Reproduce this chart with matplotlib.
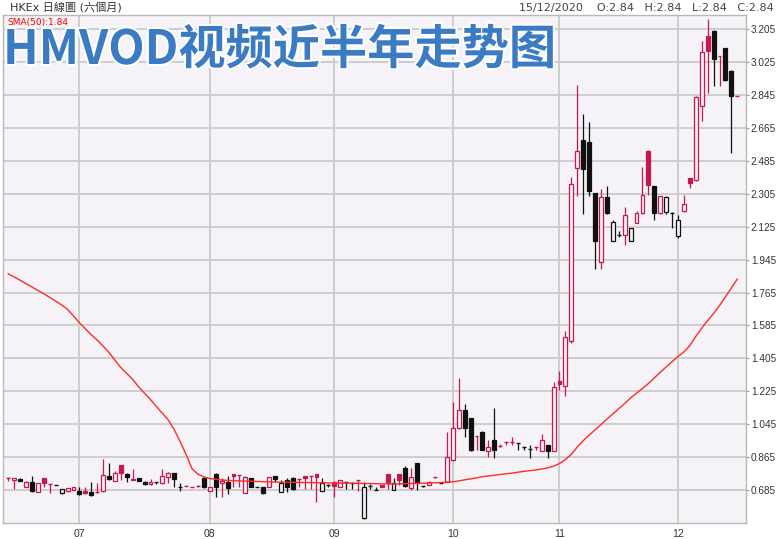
import matplotlib.pyplot as plt
import matplotlib.patheffects as pe
import numpy as np

# 日线数据 (约六个月, 读自图)
opens = [0.749, 0.740, 0.747, 0.703, 0.730, 0.676, 0.749, 0.718, 0.712, 0.670,
         0.678, 0.685, 0.681, 0.681, 0.676, 0.672, 0.681, 0.761, 0.736, 0.822,
         0.772, 0.740, 0.749, 0.730, 0.716, 0.728, 0.722, 0.754, 0.776, 0.703,
         0.708, 0.703, 0.705, 0.752, 0.681, 0.772, 0.725, 0.730, 0.772, 0.767,
         0.670, 0.749, 0.700, 0.700, 0.703, 0.761, 0.676, 0.740, 0.752, 0.743,
         0.761, 0.761, 0.772, 0.681, 0.712, 0.730, 0.703, 0.730, 0.725, 0.740,
         0.530, 0.705, 0.687, 0.712, 0.772, 0.685, 0.772, 0.804, 0.694, 0.831,
         0.705, 0.712, 0.754, 0.725, 0.730, 0.849, 1.022, 1.122, 1.077, 0.980,
         1.004, 0.900, 0.958, 0.926, 0.949, 0.949, 0.944, 0.919, 0.907, 0.918,
         0.900, 0.931, 0.900, 1.283, 1.254, 1.501, 2.444, 2.598, 2.589, 2.307,
         1.933, 2.289, 2.048, 2.079, 2.079, 2.048, 2.146, 2.197, 2.540, 2.347,
         2.197, 2.207, 2.202, 2.075, 2.212, 2.391, 2.379, 2.784, 3.165, 3.196,
         3.058, 3.100, 2.978, 2.840]
highs = [0.758, 0.751, 0.750, 0.732, 0.761, 0.725, 0.751, 0.718, 0.712, 0.690,
         0.696, 0.702, 0.703, 0.700, 0.730, 0.722, 0.853, 0.834, 0.790, 0.824,
         0.780, 0.798, 0.751, 0.732, 0.743, 0.730, 0.798, 0.782, 0.780, 0.722,
         0.712, 0.703, 0.712, 0.758, 0.703, 0.778, 0.749, 0.761, 0.774, 0.767,
         0.761, 0.752, 0.700, 0.702, 0.758, 0.763, 0.740, 0.749, 0.754, 0.745,
         0.762, 0.761, 0.774, 0.749, 0.720, 0.732, 0.742, 0.730, 0.728, 0.740,
         0.730, 0.716, 0.700, 0.714, 0.774, 0.749, 0.774, 0.815, 0.804, 0.834,
         0.707, 0.732, 0.756, 0.725, 1.004, 1.168, 1.296, 1.155, 1.079, 0.982,
         1.006, 0.958, 1.132, 0.935, 0.949, 0.973, 0.944, 0.920, 0.930, 0.918,
         0.991, 0.933, 1.277, 1.337, 1.556, 2.398, 2.899, 2.740, 2.698, 2.310,
         2.329, 2.347, 2.160, 2.100, 2.234, 2.120, 2.210, 2.450, 2.542, 2.349,
         2.295, 2.291, 2.204, 2.188, 2.298, 2.393, 2.840, 3.141, 3.258, 3.200,
         3.060, 3.102, 2.980, 2.840]
lows = [0.736, 0.690, 0.733, 0.700, 0.676, 0.674, 0.700, 0.670, 0.712, 0.661,
        0.676, 0.683, 0.658, 0.663, 0.652, 0.670, 0.676, 0.740, 0.734, 0.740,
        0.730, 0.738, 0.734, 0.714, 0.714, 0.716, 0.720, 0.722, 0.700, 0.681,
        0.708, 0.703, 0.703, 0.698, 0.679, 0.648, 0.648, 0.663, 0.700, 0.700,
        0.668, 0.700, 0.700, 0.664, 0.700, 0.730, 0.674, 0.676, 0.687, 0.700,
        0.689, 0.689, 0.621, 0.679, 0.703, 0.648, 0.701, 0.689, 0.689, 0.681,
        0.528, 0.690, 0.685, 0.700, 0.689, 0.683, 0.712, 0.700, 0.685, 0.683,
        0.700, 0.710, 0.752, 0.725, 0.728, 0.845, 1.020, 0.976, 0.900, 0.904,
        0.902, 0.864, 0.860, 0.918, 0.930, 0.930, 0.904, 0.904, 0.860, 0.904,
        0.898, 0.860, 0.898, 1.234, 1.199, 1.490, 2.293, 2.194, 2.293, 1.893,
        1.893, 2.195, 2.045, 2.070, 2.027, 2.045, 2.144, 2.195, 2.298, 2.160,
        2.195, 2.195, 2.117, 2.061, 2.205, 2.336, 2.375, 2.700, 2.857, 2.894,
        2.894, 2.920, 2.527, 2.840]
closes = [0.749, 0.749, 0.736, 0.730, 0.681, 0.722, 0.725, 0.718, 0.712, 0.689,
          0.694, 0.700, 0.663, 0.667, 0.658, 0.672, 0.767, 0.743, 0.780, 0.776,
          0.754, 0.748, 0.736, 0.716, 0.730, 0.728, 0.761, 0.780, 0.743, 0.703,
          0.708, 0.703, 0.705, 0.703, 0.700, 0.700, 0.735, 0.694, 0.762, 0.767,
          0.758, 0.703, 0.700, 0.667, 0.754, 0.743, 0.725, 0.700, 0.689, 0.741,
          0.750, 0.761, 0.758, 0.725, 0.712, 0.707, 0.740, 0.730, 0.725, 0.740,
          0.700, 0.705, 0.687, 0.703, 0.725, 0.725, 0.738, 0.707, 0.754, 0.725,
          0.705, 0.730, 0.754, 0.725, 0.867, 1.022, 1.122, 1.022, 0.904, 0.978,
          0.904, 0.922, 0.904, 0.926, 0.949, 0.949, 0.944, 0.918, 0.907, 0.918,
          0.958, 0.900, 1.250, 1.265, 1.520, 2.358, 2.540, 2.440, 2.322, 2.048,
          2.289, 2.202, 2.148, 2.079, 2.188, 2.117, 2.197, 2.298, 2.352, 2.201,
          2.293, 2.289, 2.202, 2.159, 2.248, 2.364, 2.836, 3.081, 3.086, 3.040,
          3.056, 2.927, 2.840, 2.840]
# r = 升 (红), k = 跌 (黑)
colours = list("rrkrkrrrkk" "rrkrkrrkrr" "krkkrkrrkk" "rrrkrkrkrr"
               "rkkkrkkkkr" "rrrkkrrkkr" "kkkrrkrkrk" "krrkrrrkkr"
               "krkrrrkkkr" "rkrrrrrkkk" "rkkkrkrrrk" "rkkkrrrrrk"
               "rkkr")
sma50 = [1.867, 1.850, 1.832, 1.813, 1.795, 1.776, 1.758, 1.738, 1.718, 1.697,
         1.673, 1.637, 1.600, 1.567, 1.534, 1.505, 1.472, 1.437, 1.395, 1.354,
         1.322, 1.290, 1.249, 1.214, 1.180, 1.141, 1.105, 1.068, 1.015, 0.950,
         0.880, 0.802, 0.772, 0.757, 0.748, 0.744, 0.740, 0.738, 0.736, 0.735,
         0.734, 0.733, 0.732, 0.731, 0.730, 0.729, 0.728, 0.728, 0.727, 0.727,
         0.726, 0.726, 0.725, 0.725, 0.724, 0.724, 0.723, 0.723, 0.722, 0.722,
         0.721, 0.721, 0.720, 0.719, 0.719, 0.718, 0.719, 0.720, 0.721, 0.722,
         0.723, 0.724, 0.725, 0.726, 0.728, 0.730, 0.735, 0.741, 0.746, 0.752,
         0.758, 0.762, 0.766, 0.770, 0.774, 0.778, 0.783, 0.787, 0.791, 0.795,
         0.800, 0.806, 0.816, 0.830, 0.852, 0.880, 0.920, 0.955, 0.985, 1.014,
         1.043, 1.073, 1.101, 1.130, 1.158, 1.189, 1.215, 1.240, 1.267, 1.298,
         1.329, 1.358, 1.387, 1.415, 1.440, 1.475, 1.525, 1.570, 1.612, 1.650,
         1.693, 1.741, 1.790, 1.838]
month_labels = ["07", "08", "09", "10", "11", "12"]
month_start = [12, 34, 55, 75, 93, 113]  # 每月第一个交易日
yticks = [0.685, 0.865, 1.045, 1.225, 1.405, 1.585, 1.765, 1.945,
          2.125, 2.305, 2.485, 2.665, 2.845, 3.025, 3.205]

bg = "#f5f3f7"
red = "#c8174c"
blk = "#111111"
grid = "#cbcbcb"

fig = plt.figure(figsize=(7.76, 5.39), dpi=100)
ax = fig.add_axes([3 / 776, 16 / 539, 743 / 776, 508 / 539])
ax.set_facecolor(bg)

x = np.arange(len(opens))
w = 0.66
for i in x:
    c = red if colours[i] == "r" else blk
    o, h, l, cl = opens[i], highs[i], lows[i], closes[i]
    ax.vlines(i, l, h, color=c, lw=0.9, zorder=3)
    lo, hi = min(o, cl), max(o, cl)
    if hi - lo < 0.004:
        ax.hlines(o, i - w / 2, i + w / 2, color=c, lw=1.0, zorder=4)
    else:
        fc = bg if cl >= o else c
        ax.bar(i, hi - lo, bottom=lo, width=w, facecolor=fc, edgecolor=c,
               linewidth=0.9, zorder=4)

ax.plot(x, sma50, color="#ff2a2a", lw=1.0, zorder=5)

ax.set_xlim(-0.89, 124.47)
ax.set_ylim(0.505, 3.282)

# 网格
for p in month_start:
    ax.axvline(p, color=grid, lw=1.3, zorder=1)
for t in yticks:
    ax.axhline(t, color=grid, lw=1.3, zorder=1)

ax.set_xticks(month_start)
ax.set_xticklabels(month_labels, family="Liberation Sans")
ax.set_yticks(yticks)
ax.set_yticklabels(["%.3f" % t for t in yticks], family="Liberation Sans")
ax.yaxis.tick_right()
ax.tick_params(axis="y", length=2, color="#999999", labelsize=7.2,
               labelcolor="#333333", pad=1.5)
ax.tick_params(axis="x", length=0, labelsize=7.5, labelcolor="#333333", pad=4)
for s in ax.spines.values():
    s.set_color("#b8b8b8")
    s.set_linewidth(1.0)

ax.text(0.006, 0.995, "SMA(50):1.84", transform=ax.transAxes, color="red",
        fontsize=6.5, va="top", ha="left", zorder=6)

fig.text(10 / 776, 1 - 8 / 539, "HKEx 日線圖 (六個月)", fontsize=8,
         color="#333333", va="center", ha="left",
         family=['DejaVu Sans', 'Noto Sans CJK TC'])
fig.text(774 / 776, 1 - 8 / 539,
         "15/12/2020    O:2.84   H:2.84   L:2.84   C:2.84", fontsize=8,
         color="#444444", va="center", ha="right")

fig.text(3 / 776, 1 - 50 / 539, "HMVOD视频近半年走势图", fontsize=34,
         fontweight="bold", color="#3a7bc4", va="center", ha="left",
         family=['Noto Sans CJK SC', 'DejaVu Sans'],
         path_effects=[pe.withStroke(linewidth=3, foreground="white")])

plt.savefig("out.png", dpi=100)
